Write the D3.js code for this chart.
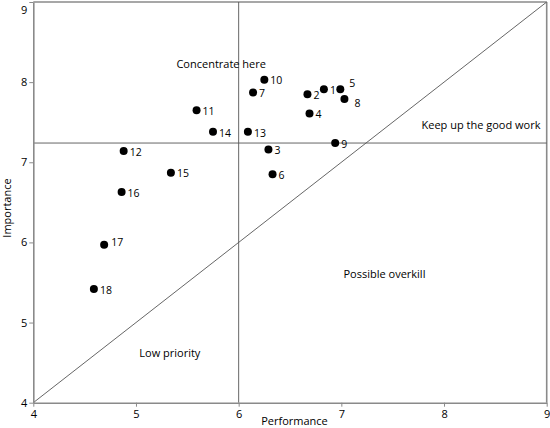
<!DOCTYPE html>
<html lang="en">
  <head>
    <meta charset="utf-8">
    <title>Importance vs performance</title>
    <script src="https://d3js.org/d3.v7.js"></script>
    <style>
      body { margin: 0; background: #fff; }
      svg text { font-family: "Open Sans", sans-serif; fill: #000; }
    </style>
  </head>

  <body>
    <svg></svg>

  <script>

// data

  const ids = [1, 2, 3, 4, 5, 6, 7, 8, 9, 10, 11, 12, 13, 14, 15, 16, 17, 18];
  const performance = [6.83, 6.67, 6.29, 6.69, 6.99, 6.33, 6.14, 7.03, 6.94,
                       6.25, 5.59, 4.88, 6.09, 5.75, 5.34, 4.86, 4.69, 4.59];
  const importance = [7.91, 7.85, 7.16, 7.61, 7.91, 6.85, 7.87, 7.79, 7.24,
                      8.03, 7.65, 7.14, 7.38, 7.38, 6.87, 6.63, 5.97, 5.42];
  const ticks = [4, 5, 6, 7, 8, 9];
  const meanImportance = 7.24;
  const meanPerformance = 6;
  const quadrants = ["Concentrate here", "Keep up the good work",
                     "Possible overkill", "Low priority"];

  const w = 550;
  const h = 428;
  const margin = {top: 2, right: 3.3, bottom: 25.3, left: 33.3};

  const svg = d3.select("svg")
      .attr("width", w)
      .attr("height", h);

  const xScale = d3.scaleLinear()
      .domain([4, 9])
      .range([margin.left, w - margin.right]);

  const yScale = d3.scaleLinear()
      .domain([4, 9])
      .range([h - margin.bottom, margin.top]);

  const points = ids.map((id, i) => ({id: id, x: performance[i], y: importance[i]}));

// frame, reference lines and diagonal

  const lines = svg.append("g");

  lines.append("line")
      .attr("x1", xScale(4)).attr("x2", xScale(9))
      .attr("y1", yScale(9)).attr("y2", yScale(9))
      .attr("stroke", "#8a8a8a").attr("stroke-width", 1.6);

  lines.append("line")
      .attr("x1", xScale(9)).attr("x2", xScale(9))
      .attr("y1", yScale(4)).attr("y2", yScale(9))
      .attr("stroke", "#8a8a8a").attr("stroke-width", 1.6);

  lines.append("line")
      .attr("x1", xScale(4)).attr("x2", xScale(9))
      .attr("y1", yScale(meanImportance)).attr("y2", yScale(meanImportance))
      .attr("stroke", "#555").attr("stroke-width", 0.9);

  lines.append("line")
      .attr("x1", xScale(meanPerformance)).attr("x2", xScale(meanPerformance))
      .attr("y1", yScale(4)).attr("y2", yScale(9))
      .attr("stroke", "#555").attr("stroke-width", 0.9);

  lines.append("line")
      .attr("x1", xScale(4)).attr("x2", xScale(9))
      .attr("y1", yScale(4)).attr("y2", yScale(9))
      .attr("stroke", "#555").attr("stroke-width", 0.9);

// axes

  const xAxis = d3.axisBottom(xScale)
      .tickValues(ticks)
      .tickFormat(d3.format("d"))
      .tickSize(4)
      .tickSizeOuter(0)
      .tickPadding(4);

  const yAxis = d3.axisLeft(yScale)
      .tickValues(ticks)
      .tickFormat(d3.format("d"))
      .tickSize(4)
      .tickSizeOuter(0)
      .tickPadding(2);

  const gx = svg.append("g")
      .attr("transform", `translate(0, ${yScale(4)})`)
      .call(xAxis);

  const gy = svg.append("g")
      .attr("transform", `translate(${xScale(4)}, 0)`)
      .call(yAxis);

  [gx, gy].forEach(g => {
    g.select(".domain").attr("stroke", "#8a8a8a").attr("stroke-width", 1.6);
    g.selectAll(".tick line").attr("stroke", "#8a8a8a");
    g.selectAll(".tick text")
        .attr("fill", "#000")
        .style("font-size", "11px")
        .style("font-family", "'Open Sans', sans-serif");
  });

  // keep the top label inside the picture
  gy.selectAll(".tick text").filter(d => d === 9).attr("dy", "1em");

  svg.append("text")
      .attr("x", 294.5)
      .attr("y", 425)
      .attr("text-anchor", "middle")
      .style("font-size", "11px")
      .text("Performance");

  svg.append("text")
      .attr("transform", "translate(11, 208) rotate(-90)")
      .attr("text-anchor", "middle")
      .style("font-size", "11px")
      .text("Importance");

// quadrant notes

  const notes = [[5.83, 8.18], [8.36, 7.42], [7.42, 5.56], [5.33, 4.57]];

  svg.append("g")
    .selectAll("text")
    .data(quadrants)
    .join("text")
      .attr("x", (d, i) => xScale(notes[i][0]))
      .attr("y", (d, i) => yScale(notes[i][1]))
      .attr("text-anchor", "middle")
      .style("font-size", "11px")
      .text(d => d);

// points and their numbers

  const nudge = {5: [9, -6], 8: [10, 4], 17: [7, -2]};

  svg.append("g")
    .selectAll("circle")
    .data(points)
    .join("circle")
      .attr("cx", d => xScale(d.x))
      .attr("cy", d => yScale(d.y))
      .attr("r", 4)
      .attr("fill", "#000");

  svg.append("g")
    .selectAll("text")
    .data(points)
    .join("text")
      .attr("x", d => xScale(d.x) + (nudge[d.id] ? nudge[d.id][0] : 6))
      .attr("y", d => yScale(d.y) + (nudge[d.id] ? nudge[d.id][1] : 1))
      .attr("dy", "0.35em")
      .style("font-size", "10.5px")
      .text(d => d.id);

    </script>

  </body>

</html>
